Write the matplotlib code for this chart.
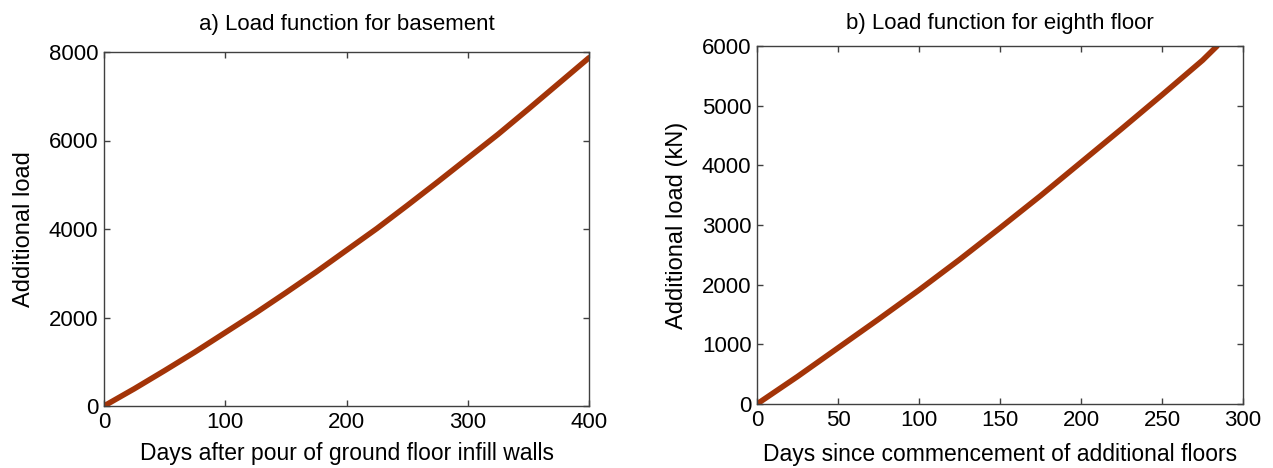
import matplotlib
matplotlib.use('Agg')
import matplotlib.pyplot as plt

# 数据
days_a = [0, 25, 50, 75, 100, 125, 150, 175, 200, 225, 250, 275, 300, 325, 350, 375, 400]
load_a = [0, 390, 800, 1220, 1660, 2100, 2560, 3030, 3520, 4010, 4530, 5060, 5600, 6140, 6710, 7290, 7870]

days_b = [0, 25, 50, 75, 100, 125, 150, 175, 200, 225, 250, 275, 284]
load_b = [0, 460, 940, 1420, 1910, 2420, 2950, 3490, 4050, 4610, 5180, 5760, 6000]

plt.rcParams['font.family'] = ['Liberation Sans', 'DejaVu Sans']
line_color = '#a33408'
spine_color = '#404040'

fig = plt.figure(figsize=(12.73, 4.68), dpi=100)
W, H = 1273, 468
ax1 = fig.add_axes([104 / W, (H - 406) / H, 485 / W, 354 / H])
ax2 = fig.add_axes([757 / W, (H - 404) / H, 486 / W, 358 / H])


def style(ax):
    for s in ax.spines.values():
        s.set_color(spine_color)
        s.set_linewidth(1.0)
    ax.tick_params(direction='in', length=4, width=1, color=spine_color,
                   top=True, right=True, labelsize=16, pad=4)


ax1.plot(days_a, load_a, color=line_color, linewidth=4, solid_capstyle='round')
ax1.set_xlim(0, 400)
ax1.set_ylim(0, 8000)
ax1.set_xticks([0, 100, 200, 300, 400])
ax1.set_yticks([0, 2000, 4000, 6000, 8000])
ax1.set_title('a) Load function for basement', fontsize=16, pad=16)
ax1.set_xlabel('Days after pour of ground floor infill walls', fontsize=16.5, labelpad=7)
ax1.set_ylabel('Additional load', fontsize=17, labelpad=10)
style(ax1)

ax2.plot(days_b, load_b, color=line_color, linewidth=4, solid_capstyle='round')
ax2.set_xlim(0, 300)
ax2.set_ylim(0, 6000)
ax2.set_xticks([0, 50, 100, 150, 200, 250, 300])
ax2.set_yticks([0, 1000, 2000, 3000, 4000, 5000, 6000])
ax2.set_title('b) Load function for eighth floor', fontsize=16, pad=12)
ax2.set_xlabel('Days since commencement of additional floors', fontsize=16.5, labelpad=9)
ax2.set_ylabel('Additional load (kN)', fontsize=17, labelpad=10)
style(ax2)

fig.savefig('out.png', dpi=100)
